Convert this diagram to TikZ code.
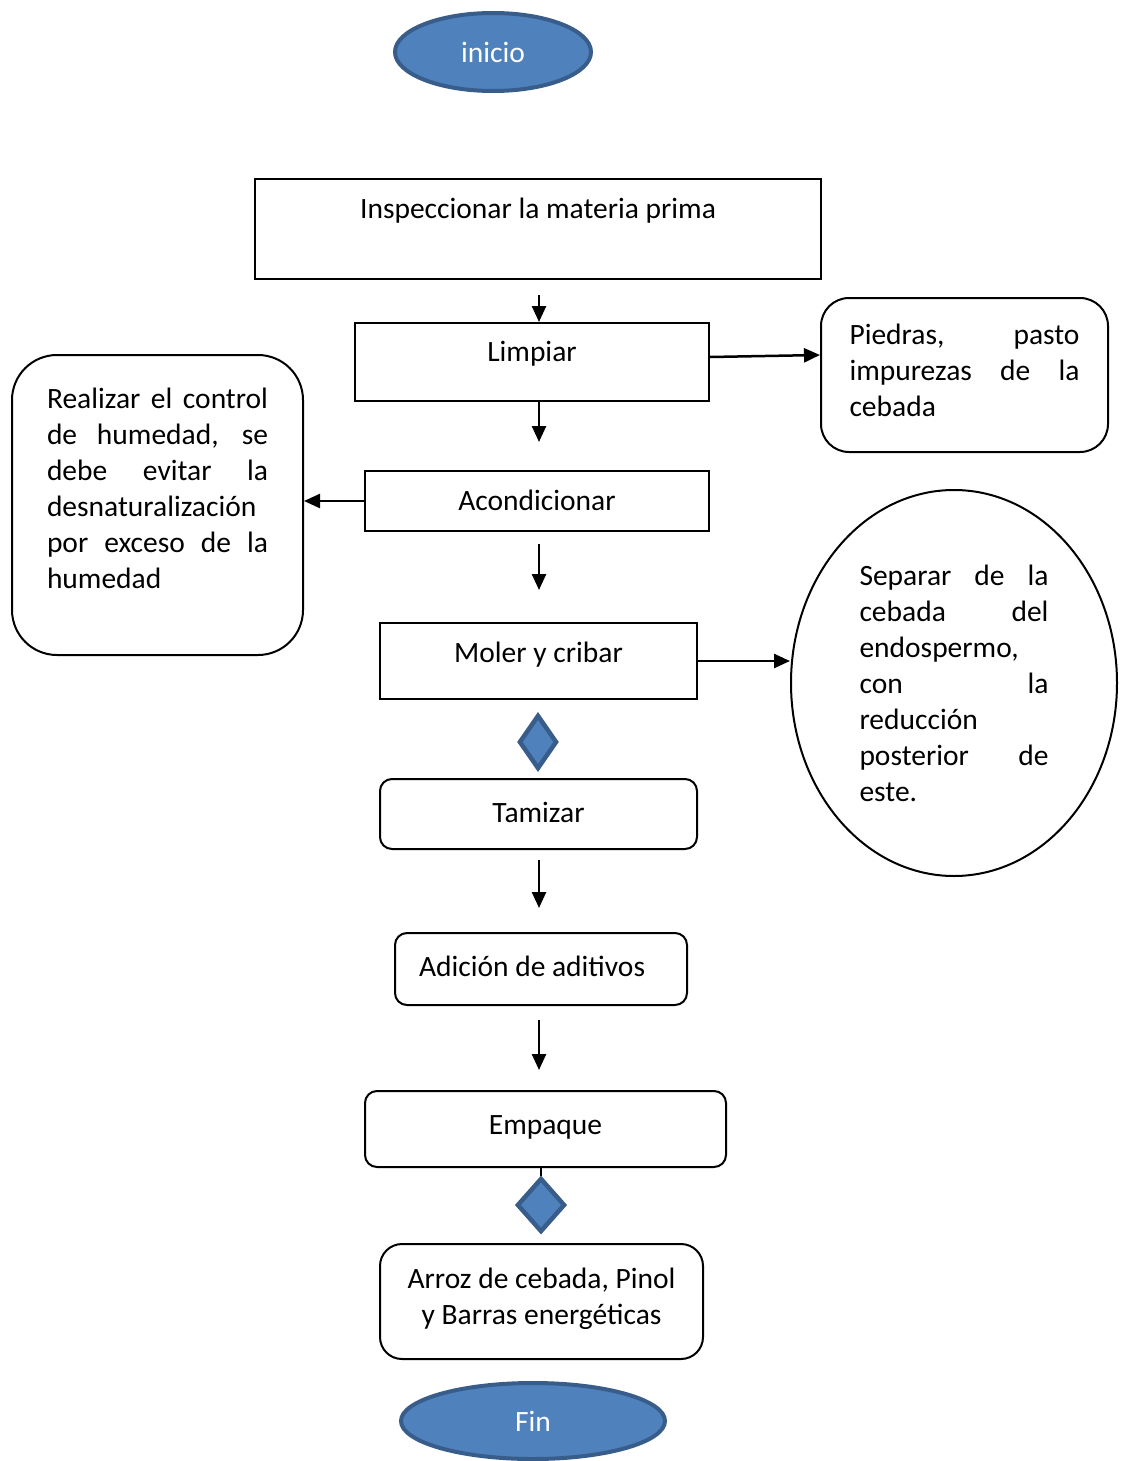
\documentclass[tikz,border=0pt]{standalone}
\usepackage{fontspec}
\setmainfont{Carlito}
\usetikzlibrary{arrows.meta,shapes.geometric,calc}
\tikzset{>={Triangle[length=16pt,width=14pt]}}
\definecolor{azul}{HTML}{4F81BD}
\definecolor{azulborde}{HTML}{385D8A}

\begin{document}
\begin{tikzpicture}[x=1pt,y=-1pt,
  font=\fontsize{29.5}{36}\selectfont,
  paso/.style={draw,line width=2pt,anchor=north,inner ysep=0pt,inner xsep=0pt},
  redondo/.style={paso,rounded corners=#1},
  terminal/.style={ellipse,draw=azulborde,fill=azul,line width=4pt,text=white,inner sep=0pt},
  rombo/.style={diamond,draw=azulborde,fill=azul,line width=4.5pt,inner sep=0pt},
  flecha/.style={->,line width=2.5pt}]
\useasboundingbox (0,0) rectangle (1124,1461);

\node[terminal,minimum width=196pt,minimum height=78pt] (inicio) at (493,52) {inicio};

\node[paso,minimum width=566pt,text height=39pt,text depth=61pt] (inspeccion) at (538,178) {Inspeccionar la materia prima};
\node[paso,minimum width=354pt,text height=38pt,text depth=40pt] (limpiar) at (532,322) {Limpiar};
\node[paso,minimum width=344pt,text height=39pt,text depth=21pt] (acondicionar) at (537,470) {Acondicionar};
\node[paso,minimum width=317pt,text height=39pt,text depth=37pt] (moler) at (538.5,622) {Moler y cribar};
\node[rombo,minimum width=38pt,minimum height=54pt] (rombo1) at (538,742) {};
\node[redondo=12pt,minimum width=317pt,text height=43pt,text depth=27pt] (tamizar) at (538.5,778) {Tamizar};
\node[redondo=12pt,text width=244pt,inner xsep=24pt,align=flush left,text height=43pt,text depth=29pt] (aditivos) at (541,932) {Adición de aditivos};
\node[redondo=12pt,minimum width=361pt,text height=43pt,text depth=33pt] (empaque) at (545.5,1090) {Empaque};
\node[rombo,minimum width=48pt,minimum height=54pt] (rombo2) at (541,1205) {};
\node[redondo=22pt,text width=323pt,align=flush center,text height=44pt,text depth=71pt] (producto) at (541.5,1243)
  {Arroz de cebada, Pinol\\y Barras energéticas};
\node[terminal,minimum width=264pt,minimum height=76pt] (fin) at (533,1421) {Fin};

% notas laterales
\node[redondo=28pt,text width=230pt,inner xsep=28.5pt,align=justify,text height=46pt,text depth=108pt] (piedras) at (964.5,297)
  {Piedras, pasto\linebreak impurezas de la\linebreak cebada};
\node[redondo=45pt,text width=221pt,inner xsep=35pt,align=justify,text height=53pt,text depth=247pt] (control) at (157.5,354)
  {Realizar el control\linebreak de humedad, se\linebreak debe evitar la\linebreak desnaturalización\linebreak por exceso de la\linebreak humedad};
\node[ellipse,draw,line width=2pt,minimum width=326pt,minimum height=386pt,inner sep=0pt,text width=189pt,align=justify] (separar) at (954,683)
  {Separar de la\linebreak cebada del\linebreak endospermo,\linebreak con la\linebreak reducción\linebreak posterior de\linebreak este.};

\coordinate (eje) at (539,0);
\draw[flecha,shorten <=15pt] (inspeccion.south -| eje) -- (limpiar.north -| eje);
\draw[flecha,shorten >=28pt] (limpiar.south -| eje) -- (acondicionar.north -| eje);
\draw[flecha,shorten <=12pt,shorten >=32pt] (acondicionar.south -| eje) -- (moler.north -| eje);
\draw[flecha,shorten <=10pt,shorten >=24pt] (tamizar.south -| eje) -- (aditivos.north -| eje);
\draw[flecha,shorten <=14pt,shorten >=20pt] (aditivos.south -| eje) -- (empaque.north -| eje);
\draw[line width=2.5pt] (rombo2.north |- empaque.south) -- (rombo2.north);

\draw[flecha] ([yshift=5pt]limpiar.east) -- ([yshift=20pt]piedras.west);
\draw[flecha] (acondicionar.west) -- (acondicionar.west -| control.east);
\draw[flecha] (moler.east) -- (moler.east -| separar.west);
\end{tikzpicture}
\end{document}
